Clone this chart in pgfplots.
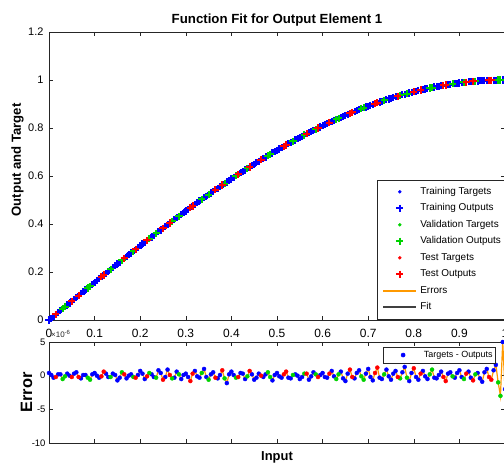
\documentclass[border=0pt]{standalone}
\usepackage{pgfplots}
\pgfplotsset{compat=1.18}
\usepackage{pgfplotstable}
\usepackage{fontspec}
\setmainfont{Liberation Sans}

\definecolor{mblue}{RGB}{0,0,255}
\definecolor{mgreen}{RGB}{0,210,0}
\definecolor{mred}{RGB}{255,0,0}
\definecolor{morange}{RGB}{255,153,0}
\definecolor{axgray}{RGB}{38,38,38}

% x = input, y = target, e = error (x 1e-6), s = set (1 train, 2 validation, 3 test)
\pgfplotstableread{
x y e s
0.000 0.00000 0.4 1
0.005 0.00785 0.1 1
0.010 0.01571 -0.3 1
0.015 0.02356 -0.2 3
0.020 0.03141 0.2 1
0.025 0.03926 0.2 1
0.030 0.04711 -0.5 2
0.035 0.05495 -0.1 2
0.040 0.06279 0.3 1
0.045 0.07063 0.0 1
0.050 0.07846 -0.2 3
0.055 0.08629 0.3 1
0.060 0.09411 0.5 1
0.065 0.10192 -0.2 3
0.070 0.10973 -0.4 1
0.075 0.11754 0.1 1
0.080 0.12533 0.1 1
0.085 0.13312 -0.3 2
0.090 0.14090 -0.6 2
0.095 0.14867 0.2 1
0.100 0.15643 0.4 1
0.105 0.16418 0.0 1
0.110 0.17193 -0.3 1
0.115 0.17966 -0.1 3
0.120 0.18738 0.6 3
0.125 0.19509 0.3 1
0.130 0.20279 -0.2 1
0.135 0.21047 -0.2 2
0.140 0.21814 0.3 1
0.145 0.22580 0.1 1
0.150 0.23345 -0.7 1
0.155 0.24108 -0.3 1
0.160 0.24869 0.5 2
0.165 0.25629 0.2 3
0.170 0.26387 -0.4 1
0.175 0.27144 0.0 1
0.180 0.27899 0.2 1
0.185 0.28652 -0.2 2
0.190 0.29404 -0.3 3
0.195 0.30153 0.1 1
0.200 0.30902 0.7 1
0.205 0.31648 0.3 1
0.210 0.32392 -0.5 1
0.215 0.33134 -0.1 3
0.220 0.33874 0.4 2
0.225 0.34612 0.2 1
0.230 0.35347 -0.2 1
0.235 0.36081 -0.3 2
0.240 0.36812 0.8 1
0.245 0.37541 0.4 1
0.250 0.38268 -0.6 3
0.255 0.38992 -0.2 1
0.260 0.39715 0.9 1
0.265 0.40434 0.1 3
0.270 0.41151 -0.4 2
0.275 0.41866 -0.3 1
0.280 0.42578 0.6 1
0.285 0.43287 0.2 2
0.290 0.43994 -0.5 1
0.295 0.44698 0.1 1
0.300 0.45399 0.3 1
0.305 0.46097 -0.2 1
0.310 0.46793 -0.8 3
0.315 0.47486 0.3 3
0.320 0.48175 0.7 1
0.325 0.48862 -0.1 1
0.330 0.49546 -0.3 1
0.335 0.50227 0.4 2
0.340 0.50904 1.0 1
0.345 0.51579 -0.2 1
0.350 0.52250 -0.6 2
0.355 0.52918 0.2 1
0.360 0.53583 0.5 1
0.365 0.54244 -0.3 3
0.370 0.54902 -0.4 1
0.375 0.55557 0.1 1
0.380 0.56208 0.8 3
0.385 0.56856 -0.4 2
0.390 0.57501 -1.1 1
0.395 0.58141 0.2 1
0.400 0.58779 0.6 1
0.405 0.59412 0.1 1
0.410 0.60042 -0.3 2
0.415 0.60668 -0.2 3
0.420 0.61291 0.4 1
0.425 0.61909 0.3 1
0.430 0.62524 -0.5 1
0.435 0.63135 -0.1 2
0.440 0.63742 0.7 3
0.445 0.64346 0.2 1
0.450 0.64945 -0.6 1
0.455 0.65540 -0.3 1
0.460 0.66131 0.3 1
0.465 0.66718 0.0 3
0.470 0.67301 -0.2 1
0.475 0.67880 0.2 1
0.480 0.68455 0.5 2
0.485 0.69025 -0.2 2
0.490 0.69591 -0.7 1
0.495 0.70153 0.1 1
0.500 0.70711 0.4 1
0.505 0.71263 -0.1 1
0.510 0.71813 -0.3 1
0.515 0.72357 0.2 3
0.520 0.72897 0.6 3
0.525 0.73432 -0.3 1
0.530 0.73963 -0.4 1
0.535 0.74489 0.1 2
0.540 0.75011 0.2 1
0.545 0.75528 0.0 1
0.550 0.76041 -0.5 1
0.555 0.76548 -0.2 1
0.560 0.77051 0.3 2
0.565 0.77550 0.3 3
0.570 0.78043 -0.6 1
0.575 0.78532 -0.1 1
0.580 0.79016 0.5 1
0.585 0.79494 0.2 2
0.590 0.79968 -0.2 3
0.595 0.80438 0.1 1
0.600 0.80902 0.4 1
0.605 0.81361 -0.2 1
0.610 0.81815 -0.3 1
0.615 0.82264 0.3 3
0.620 0.82708 0.7 1
0.625 0.83147 -0.1 1
0.630 0.83581 -0.5 2
0.635 0.84009 0.2 2
0.640 0.84433 0.6 1
0.645 0.84851 -0.4 1
0.650 0.85264 -0.8 1
0.655 0.85672 0.3 1
0.660 0.86074 0.9 3
0.665 0.86471 -0.2 3
0.670 0.86863 -0.4 1
0.675 0.87250 0.4 1
0.680 0.87631 0.8 1
0.685 0.88006 -0.1 2
0.690 0.88377 -0.6 2
0.695 0.88741 0.3 1
0.700 0.89101 1.0 1
0.705 0.89454 -0.2 1
0.710 0.89803 -0.7 1
0.715 0.90146 0.4 3
0.720 0.90483 1.2 3
0.725 0.90814 -0.3 1
0.730 0.91140 -0.5 1
0.735 0.91461 0.2 2
0.740 0.91775 0.9 1
0.745 0.92085 -0.1 1
0.750 0.92388 -0.6 1
0.755 0.92686 0.3 1
0.760 0.92978 0.7 1
0.765 0.93264 -0.2 3
0.770 0.93544 -0.4 2
0.775 0.93819 0.5 1
0.780 0.94088 1.3 1
0.785 0.94351 -0.3 2
0.790 0.94609 -0.8 1
0.795 0.94860 0.4 1
0.800 0.95106 1.1 3
0.805 0.95345 -0.2 1
0.810 0.95579 -0.6 1
0.815 0.95807 0.3 3
0.820 0.96029 0.7 1
0.825 0.96246 -0.1 1
0.830 0.96456 -0.5 1
0.835 0.96660 0.2 2
0.840 0.96858 0.9 2
0.845 0.97051 -0.3 1
0.850 0.97237 -0.4 1
0.855 0.97418 0.1 1
0.860 0.97592 0.6 1
0.865 0.97762 -0.2 3
0.870 0.97922 -0.8 3
0.875 0.98079 0.3 1
0.880 0.98229 0.5 1
0.885 0.98374 -0.1 2
0.890 0.98511 -0.3 1
0.895 0.98644 0.4 1
0.900 0.98769 0.8 1
0.905 0.98889 -0.2 1
0.910 0.99002 -0.5 2
0.915 0.99110 0.3 3
0.920 0.99211 0.6 1
0.925 0.99307 -0.3 1
0.930 0.99396 -0.7 3
0.935 0.99480 0.2 2
0.940 0.99556 0.4 1
0.945 0.99627 -0.4 1
0.950 0.99692 -0.9 1
0.955 0.99750 0.5 1
0.960 0.99803 1.0 1
0.965 0.99849 -0.2 3
0.970 0.99889 -0.6 3
0.975 0.99923 0.8 1
0.980 0.99951 1.6 1
0.985 0.99972 -1.0 2
0.990 0.99988 -3.0 2
0.995 0.99997 5.0 1
1.000 1.00000 -2.0 1
}\alldata

\pgfplotsset{
  mstyle/.style={
    scale only axis, width=456bp, xmin=0, xmax=1,
    tick align=inside, major tick length=4bp,
    axis line style={axgray, line width=0.6bp},
    every tick/.style={axgray, line width=0.6bp},
    clip=false,
    /pgf/number format/assume math mode=true,
    xtick={0,0.1,0.2,0.3,0.4,0.5,0.6,0.7,0.8,0.9,1},
    legend cell align=left,
    legend image code/.code={\draw[mark repeat=2,mark phase=2,##1] plot coordinates {(0bp,0bp) (16.5bp,0bp) (33bp,0bp)};\path (0bp,0bp) (33bp,0bp);},
  },
  trainset/.style={restrict expr to domain={\thisrow{s}}{0.5:1.5}},
  valset/.style={restrict expr to domain={\thisrow{s}}{1.5:2.5}},
  testset/.style={restrict expr to domain={\thisrow{s}}{2.5:3.5}},
  tdot/.style={only marks, mark=*, mark size=1.4bp, #1, mark options={draw=#1,fill=#1}},
  oplus/.style={only marks, mark=+, mark size=3.6bp, #1, mark options={draw=#1, line width=2bp}},
  edot/.style={only marks, mark=*, mark size=2bp, #1, mark options={draw=#1,fill=#1}},
}

\begin{document}
\begin{tikzpicture}
\begin{axis}[mstyle, name=upper, at={(0,0)}, anchor=south west,
  height=288bp, ymin=0, ymax=1.2,
  ytick={0,0.2,0.4,0.6,0.8,1,1.2},
  y tick label style={font=\fontsize{11}{13}\selectfont, xshift=-2bp},
  x tick label style={font=\fontsize{12}{14}\selectfont, yshift=-6bp},
  legend style={at={(rel axis cs:0.7193,0.4861)}, anchor=north west,
    draw=axgray, line width=0.6bp, font=\fontsize{10}{12}\selectfont,
    inner xsep=5bp, inner ysep=6.5bp, row sep=6.5bp, column sep=3bp,
    nodes={inner sep=0pt, text height=7.5bp, text depth=2.5bp, anchor=west}},
]
\addplot[black!80, line width=1bp, forget plot] table[x=x,y=y]{\alldata};
\addplot[tdot=mblue, trainset] table[x=x,y=y]{\alldata};
\addlegendentry{Training Targets}
\addplot[oplus=mblue, trainset] table[x=x,y=y]{\alldata};
\addlegendentry{Training Outputs}
\addplot[tdot=mgreen, valset] table[x=x,y=y]{\alldata};
\addlegendentry{Validation Targets}
\addplot[oplus=mgreen, valset] table[x=x,y=y]{\alldata};
\addlegendentry{Validation Outputs}
\addplot[tdot=mred, testset] table[x=x,y=y]{\alldata};
\addlegendentry{Test Targets}
\addplot[oplus=mred, testset] table[x=x,y=y]{\alldata};
\addlegendentry{Test Outputs}
\addlegendimage{morange, line width=2bp}
\addlegendentry{Errors}
\addlegendimage{black!75, line width=2bp}
\addlegendentry{Fit}
\end{axis}

\begin{axis}[mstyle, name=lower, at={(0,-22bp)}, anchor=north west,
  height=101bp, ymin=-10, ymax=5,
  ytick={-10,-5,0,5}, xticklabels={},
  y tick label style={font=\fontsize{9.5}{11}\selectfont},
  legend style={at={(rel axis cs:0.7325,0.9505)}, anchor=north west,
    draw=axgray, line width=0.6bp, font=\fontsize{9}{10}\selectfont,
    inner xsep=3bp, inner ysep=3.5bp, column sep=4bp,
    nodes={inner sep=0pt, text height=6.5bp, text depth=2bp, anchor=west}},
]
\addplot[morange, line width=1.2bp, forget plot] table[x=x,y=e]{\alldata};
\addplot[edot=mblue, trainset] table[x=x,y=e]{\alldata};
\addlegendentry{Targets - Outputs}
\addplot[edot=mgreen, valset, forget plot] table[x=x,y=e]{\alldata};
\addplot[edot=mred, testset, forget plot] table[x=x,y=e]{\alldata};
\end{axis}

\node[anchor=south west, inner sep=0pt, font=\fontsize{8}{9}\selectfont, axgray] at ([xshift=2bp,yshift=4bp]lower.north west) {×10\textsuperscript{-6}};
\node[font=\bfseries\fontsize{13.3}{15}\selectfont] at ([yshift=12bp]upper.north) {Function Fit for Output Element 1};
\node[rotate=90, font=\bfseries\fontsize{13.2}{15}\selectfont] at ([xshift=-31.5bp,yshift=16bp]upper.west) {Output and Target};
\node[rotate=90, font=\bfseries\fontsize{16.5}{18}\selectfont] at ([xshift=-22.5bp]lower.west) {Error};
\node[font=\bfseries\fontsize{13}{15}\selectfont] at ([yshift=-14bp]lower.south) {Input};

\pgfresetboundingbox
\path[use as bounding box] (-49bp,-146bp) rectangle (455bp,320bp);
\end{tikzpicture}
\end{document}
